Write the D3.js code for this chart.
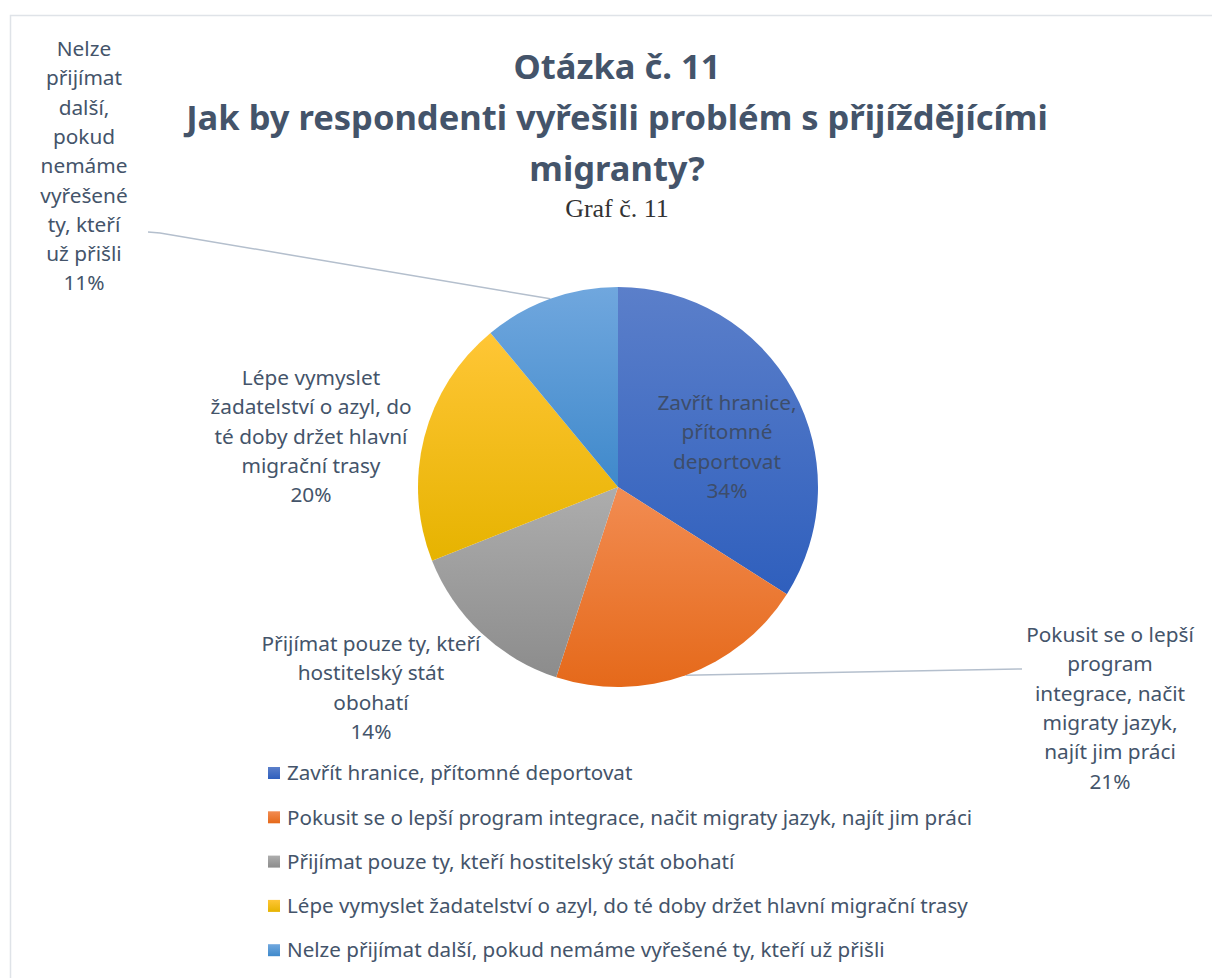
<!DOCTYPE html>
<html>
<head>
<meta charset="utf-8">
<script src="https://cdn.jsdelivr.net/npm/d3@7"></script>
<style>
  body { margin: 0; background: #fff; }
  svg { display: block; }
  text { font-family: "Noto Sans", sans-serif; }
</style>
</head>
<body>
<svg id="chart"></svg>
<script>
var width = 1212, height = 978;

// ---------- data ----------
var categories = [
  "Zavřít hranice, přítomné deportovat",
  "Pokusit se o lepší program integrace, načit migraty jazyk, najít jim práci",
  "Přijímat pouze ty, kteří hostitelský stát obohatí",
  "Lépe vymyslet žadatelství o azyl, do té doby držet hlavní migrační trasy",
  "Nelze přijímat další, pokud nemáme vyřešené ty, kteří už přišli"
];
var values = [34, 21, 14, 20, 11];
var labelLines = [
  ["Zavřít hranice,", "přítomné", "deportovat"],
  ["Pokusit se o lepší", "program", "integrace, načit", "migraty jazyk,", "najít jim práci"],
  ["Přijímat pouze ty, kteří", "hostitelský stát", "obohatí"],
  ["Lépe vymyslet", "žadatelství o azyl, do", "té doby držet hlavní", "migrační trasy"],
  ["Nelze", "přijímat", "další,", "pokud", "nemáme", "vyřešené", "ty, kteří", "už přišli"]
];
var titleLines = ["Otázka č. 11", "Jak by respondenti vyřešili problém s přijíždějícími", "migranty?"];
var subtitle = "Graf č. 11";

// colours: [top, bottom] of each slice gradient
var colors = [
  ["#5b7fca", "#2f5fbd"],
  ["#f28c52", "#e5691a"],
  ["#adadad", "#8c8c8c"],
  ["#ffc636", "#e6b300"],
  ["#70a7de", "#3f89cb"]
];

// label layout (first baseline centre)
var labelPos = [
  {x: 727, y: 410},
  {x: 1110, y: 642},
  {x: 371, y: 651},
  {x: 311, y: 385},
  {x: 84, y: 56}
];
var lineH = 29.3;

var svg = d3.select("#chart")
  .attr("width", width)
  .attr("height", height);

// chart area border
svg.append("path")
  .attr("d", "M10.5," + height + "V15.5H" + width)
  .attr("fill", "none")
  .attr("stroke", "#dfe3e8")
  .attr("stroke-width", 1.5);

// gradients
var defs = svg.append("defs");
colors.forEach(function(c, i) {
  var g = defs.append("linearGradient")
    .attr("id", "grad" + i)
    .attr("x1", 0).attr("y1", 0).attr("x2", 0).attr("y2", 1);
  g.append("stop").attr("offset", "0%").attr("stop-color", c[0]);
  g.append("stop").attr("offset", "100%").attr("stop-color", c[1]);
});

//-------------title-----------
var title = svg.append("text")
  .attr("text-anchor", "middle")
  .style("font-weight", "bold")
  .style("font-size", "34.5px")
  .attr("fill", "#44546a");
title.selectAll("tspan")
  .data(titleLines)
  .enter()
  .append("tspan")
  .attr("x", 617)
  .attr("y", function(d, i) { return 79 + i * 51; })
  .text(function(d) { return d; });

svg.append("text")
  .attr("x", 617)
  .attr("y", 217)
  .attr("text-anchor", "middle")
  .style("font-family", "'Liberation Serif', serif")
  .style("font-size", "26px")
  .attr("fill", "#333")
  .text(subtitle);

//-------------pie-------------
var cx = 618, cy = 487, radius = 200;
var pie = d3.pie().sort(null).value(function(d) { return d; });
var arcs = pie(values);
var arc = d3.arc().innerRadius(0).outerRadius(radius);
var edge = d3.arc().innerRadius(radius).outerRadius(radius);

var g = svg.append("g").attr("transform", "translate(" + cx + "," + cy + ")");

// leader lines (drawn under the slices)
var leaders = [
  null,
  function(p) { return [[1022 - cx, 669 - cy], p]; },
  null,
  null,
  function(p) { return [[148 - cx, 232 - cy], [160 - cx, 233 - cy], p]; }
];
arcs.forEach(function(d, i) {
  if (!leaders[i]) return;
  var pts = leaders[i](edge.centroid(d));
  g.append("path")
    .attr("d", d3.line()(pts))
    .attr("fill", "none")
    .attr("stroke", "#b4bfcd")
    .attr("stroke-width", 1.5);
});

g.selectAll("path.slice")
  .data(arcs)
  .enter()
  .append("path")
  .attr("class", "slice")
  .attr("d", arc)
  .attr("fill", function(d, i) { return "url(#grad" + i + ")"; });

//-------------labels-------------
labelLines.forEach(function(lines, i) {
  var t = svg.append("text")
    .attr("text-anchor", "middle")
    .style("font-size", "20.8px")
    .attr("fill", i === 0 ? "#3d4d6a" : "#44546a");
  var all = lines.concat([values[i] + "%"]);
  t.selectAll("tspan")
    .data(all)
    .enter()
    .append("tspan")
    .attr("x", labelPos[i].x)
    .attr("y", function(d, j) { return labelPos[i].y + j * lineH; })
    .text(function(d) { return d; });
});

//-------------legend-------------
var legend = svg.append("g")
  .selectAll("g")
  .data(categories)
  .enter()
  .append("g")
  .attr("transform", function(d, i) { return "translate(268," + (773 + i * 44.3) + ")"; });

legend.append("rect")
  .attr("y", -6)
  .attr("width", 12)
  .attr("height", 12)
  .attr("fill", function(d, i) { return "url(#grad" + i + ")"; });

legend.append("text")
  .attr("x", 19)
  .attr("dy", "0.35em")
  .style("font-size", "20.6px")
  .attr("fill", "#44546a")
  .text(function(d) { return d; });
</script>
</body>
</html>
